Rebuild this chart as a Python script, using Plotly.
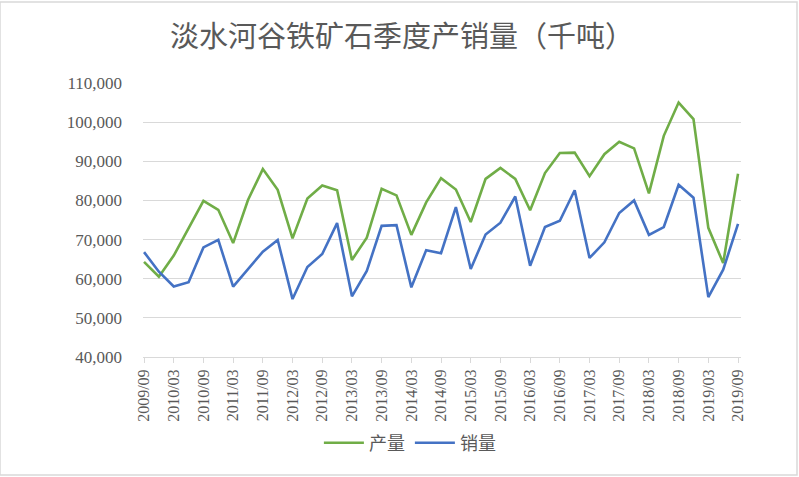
import plotly.graph_objects as go

quarters = [
    "2009/09", "2009/12", "2010/03", "2010/06", "2010/09", "2010/12",
    "2011/03", "2011/06", "2011/09", "2011/12", "2012/03", "2012/06",
    "2012/09", "2012/12", "2013/03", "2013/06", "2013/09", "2013/12",
    "2014/03", "2014/06", "2014/09", "2014/12", "2015/03", "2015/06",
    "2015/09", "2015/12", "2016/03", "2016/06", "2016/09", "2016/12",
    "2017/03", "2017/06", "2017/09", "2017/12", "2018/03", "2018/06",
    "2018/09", "2018/12", "2019/03", "2019/06", "2019/09",
]

production = [
    64300, 60500, 65900, 73100, 79900, 77600, 69100, 80100, 88000, 82700,
    70300, 80500, 83800, 82600, 64800, 70500, 83000, 81300, 71200, 79500,
    85700, 82800, 74500, 85500, 88300, 85500, 77500, 87000, 92100, 92200,
    86200, 91800, 95000, 93300, 81800, 96500, 105000, 100800, 73000, 64000,
    86800,
]

sales = [
    66800, 61800, 58000, 59100, 68000, 69900, 58000, 62600, 66900, 69900,
    54800, 63000, 66300, 74200, 55500, 62000, 73500, 73700, 57800, 67300,
    66500, 78300, 62500, 71300, 74300, 81000, 63300, 73200, 74800, 82600,
    65300, 69300, 76800, 80000, 71200, 73200, 84000, 80700, 55300, 62300,
    74000,
]

tick_labels = quarters[::2]
y_ticks = [40000, 50000, 60000, 70000, 80000, 90000, 100000, 110000]

SERIF = "Liberation Serif, DejaVu Serif, serif"

fig = go.Figure()
fig.add_trace(go.Scatter(
    x=quarters, y=production, name="产量", mode="lines",
    line=dict(color="#70AD47", width=2.6),
))
fig.add_trace(go.Scatter(
    x=quarters, y=sales, name="销量", mode="lines",
    line=dict(color="#4472C4", width=2.6),
))

fig.update_layout(
    width=799, height=477,
    margin=dict(l=143, r=58, t=83, b=120),
    paper_bgcolor="white", plot_bgcolor="white",
    title=dict(
        text="淡水河谷铁矿石季度产销量（千吨）",
        x=0.503, xref="container", xanchor="center",
        y=1 - 37 / 477, yref="container", yanchor="middle",
        font=dict(family="Noto Sans CJK SC", size=29, color="#595959"),
    ),
    showlegend=True,
    legend=dict(
        orientation="h", x=0.513, xref="container", xanchor="center",
        y=1 - 443 / 477, yref="container", yanchor="middle",
        font=dict(family="Noto Sans CJK SC", size=18, color="#595959"),
        itemwidth=40, tracegroupgap=0, bgcolor="rgba(0,0,0,0)",
    ),
    xaxis=dict(
        type="category", categoryorder="array", categoryarray=quarters,
        range=[-0.07, 40.2],
        tickmode="array", tickvals=tick_labels, ticktext=tick_labels,
        tickangle=-90,
        tickfont=dict(family=SERIF, size=16, color="#595959"),
        showgrid=False, showline=True, linecolor="#D9D9D9", linewidth=1,
        ticks="outside", ticklen=5, tickcolor="#D9D9D9",
        zeroline=False, fixedrange=True, automargin=False,
    ),
    yaxis=dict(
        range=[40000, 110000],
        tickmode="array", tickvals=y_ticks,
        tickformat=",d",
        tickfont=dict(family=SERIF, size=17, color="#595959"),
        showgrid=True, gridcolor="#D9D9D9", gridwidth=1,
        zeroline=False, showline=False, ticks="", ticklabelstandoff=20,
        fixedrange=True, automargin=False,
    ),
    shapes=[dict(
        type="rect", xref="paper", yref="paper",
        x0=-143 / 598, x1=1 + 56 / 598, y0=-118 / 274, y1=1 + 81 / 274,
        line=dict(color="#D9D9D9", width=1.5), layer="below",
    )],
)

fig.write_html("out.html")
